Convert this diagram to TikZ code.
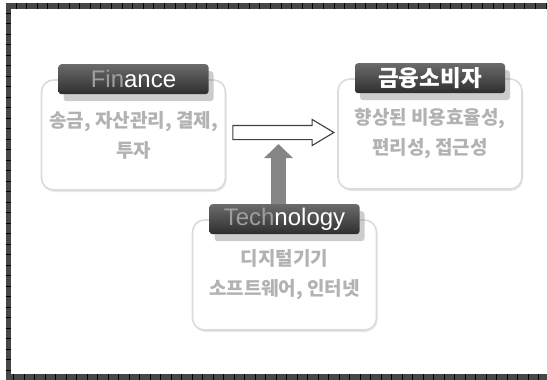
\documentclass[tikz,border=0pt]{standalone}
\usepackage{fontspec}
\setmainfont{Liberation Sans}
\newfontfamily\krfont{Noto Sans CJK KR}
\usepackage{tikz}
\usetikzlibrary{positioning,shapes.arrows,shadows,arrows.meta}

\begin{document}
\begin{tikzpicture}[x=1pt,y=-1pt,
    bodybox/.style={draw=black!14, line width=1.6pt, fill=white, rounded corners=12pt,
      minimum width=184pt, minimum height=110pt, align=center, text=black!30,
      font=\krfont\bfseries\fontsize{19}{30}\selectfont,
      drop shadow={opacity=0.18, shadow xshift=1pt, shadow yshift=-2pt}},
    headbox/.style={rounded corners=3pt, top color=black!58, bottom color=black!82,
      minimum width=150pt, minimum height=30pt, inner sep=0pt, text=white,
      font=\fontsize{24}{24}\selectfont,
      drop shadow={opacity=0.4, shadow xshift=5pt, shadow yshift=-7pt}},
    flowarrow/.style={single arrow, draw=black!75, fill=white, line width=1.1pt,
      minimum height=101pt, single arrow head extend=6pt,
      single arrow tip angle=62, inner xsep=0pt, inner ysep=6.5pt},
    techarrow/.style={line width=15pt, draw=black!48, -{Triangle[width=28pt,length=14pt]}}]
    \useasboundingbox (0,0) rectangle (547,380);
    % frame
    \draw [line width=5.6pt, black!72, line join=miter] (560,6) -- (8.5,6) -- (8.5,377) -- (560,377);
    \foreach \t in {16,26.6,...,547} \draw [black, line width=0.8pt] (\t,3.2) -- (\t,8.8);
    \foreach \t in {13,23.5,...,372} \draw [black, line width=0.8pt] (5.7,\t) -- (11.3,\t);
    \foreach \t in {13.5,24,...,547} \draw [black, line width=0.8pt] (\t,374.2) -- (\t,379.8);

    \node [bodybox] (fin)  at (133.5,135) {송금, 자산관리, 결제,\\투자};
    \node [headbox] (finhead) at (fin.north) {\textcolor{black!38}{Fin}ance};

    \node [bodybox] (cons) at (430,134) {향상된 비용효율성,\\편리성, 접근성};
    \node [headbox, font=\krfont\bfseries\fontsize{22.5}{22.5}\selectfont] (conshead) at (cons.north) {금융소비자};

    \node [bodybox] (tech) at (284.5,275) {디지털기기\\소프트웨어, 인터넷};
    \node [headbox] (techhead) at (tech.north) {\textcolor{black!38}{Tech}nology};

    \node [flowarrow, right=6pt of fin.east, yshift=2.5pt] (flow) {};
    \coordinate (push) at (278.5,144);
    \draw [techarrow] (push |- techhead.north) -- (push);
\end{tikzpicture}
\end{document}
